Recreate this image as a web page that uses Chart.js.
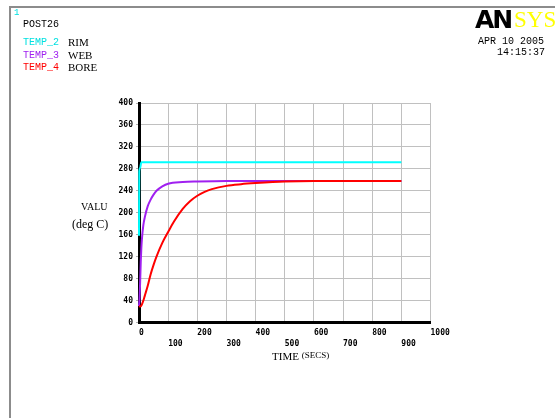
<!DOCTYPE html>
<html>
<head>
<meta charset="utf-8">
<script src="https://cdn.jsdelivr.net/npm/chart.js@4/dist/chart.umd.min.js"></script>
<style>
  html, body { margin: 0; padding: 0; background: #fff; }
  #page { position: relative; width: 555px; height: 418px; overflow: hidden; }
  #frame { position: absolute; left: 9px; top: 6px; width: 560px; height: 420px;
           border-left: 2px solid #8c8c8c; border-top: 2px solid #8c8c8c; }
  .t { position: absolute; white-space: nowrap; line-height: 1; }
  .mono { font-family: "Liberation Mono", monospace; font-size: 10px; }
  .serif { font-family: "Liberation Serif", serif; }
  canvas { position: absolute; left: 0; top: 0; }
</style>
</head>
<body>
<div id="page">
  <canvas id="chart" width="555" height="418"></canvas>
  <div id="frame"></div>

  <div class="t mono" style="left:14px;top:9px;font-size:9px;color:#00e0e0">1</div>
  <div class="t mono" style="left:23px;top:20px">POST26</div>

  <div class="t mono" style="left:23px;top:38px;color:#00e0e0">TEMP_2</div>
  <div class="t serif" style="left:68px;top:37px;font-size:11px">RIM</div>
  <div class="t mono" style="left:23px;top:51px;color:#a020f0">TEMP_3</div>
  <div class="t serif" style="left:68px;top:50px;font-size:11px">WEB</div>
  <div class="t mono" style="left:23px;top:63px;color:#ff0000">TEMP_4</div>
  <div class="t serif" style="left:68px;top:62px;font-size:11px">BORE</div>

  <div class="t" style="left:475px;top:7px;font-family:'DejaVu Sans';font-weight:bold;font-size:25px;letter-spacing:-2px;color:#000">AN</div>
  <div class="t serif" style="left:514px;top:8px;font-size:23px;color:#ffff00">SYS</div>

  <div class="t mono" style="left:478px;top:37px">APR 10 2005</div>
  <div class="t mono" style="left:497px;top:48px">14:15:37</div>

  <div class="t serif" style="left:81px;top:202px;font-size:10px">VALU</div>
  <div class="t serif" style="left:72px;top:218px;font-size:12px">(deg C)</div>

  <div class="t serif" style="left:272px;top:351px;font-size:11px">TIME <span style="font-size:9px;position:relative;top:-2px">(SECS)</span></div>
</div>

<script>
// RIM (TEMP_2)
var rimTime = [0, 1, 4, 8, 20, 900]
var rimTemp = [158, 276, 282, 292, 292, 292]

// WEB (TEMP_3)
var webTime = [0, 2, 4, 6, 8, 10, 15, 20, 30, 40, 50, 60, 80, 100, 150, 200, 300, 400, 600, 900]
var webTemp = [30, 45, 75, 110, 135, 152, 178, 192, 212, 224, 233, 240, 248, 253, 256, 257, 258, 258, 258, 258]

// BORE (TEMP_4)
var boreTime = [0, 5, 10, 15, 20, 30, 40, 50, 60, 80, 100, 120, 150, 175, 200, 225, 250, 300, 350, 400, 500, 600, 900]
var boreTemp = [30, 29, 33, 40, 49, 67, 88, 105, 120, 145, 165, 184, 207, 221, 231, 238, 243, 249, 252, 254, 257, 258, 258]

// axis ticks
var timeTicks = [0, 100, 200, 300, 400, 500, 600, 700, 800, 900, 1000]
var valuTicks = [0, 40, 80, 120, 160, 200, 240, 280, 320, 360, 400]

const toPoints = (xs, ys) => xs.map((x, i) => ({ x: x, y: ys[i] }))

const tickFont = { family: "DejaVu Sans Mono", size: 8, weight: "bold", lineHeight: 1.4 }

var chart = new Chart(document.getElementById("chart"), {
    type: "line",
    data: {
        datasets: [{
            label: "TEMP_4",
            data: toPoints(boreTime, boreTemp),
            borderColor: "#ff0000",
            order: 0
        }, {
            label: "TEMP_3",
            data: toPoints(webTime, webTemp),
            borderColor: "#a020f0",
            order: 1
        }, {
            label: "TEMP_2",
            data: toPoints(rimTime, rimTemp),
            borderColor: "#00ffff",
            order: 2
        }]
    },
    options: {
        responsive: false,
        devicePixelRatio: 1,
        animation: false,
        layout: { padding: { left: 100, right: 124.5, top: 103, bottom: 65.5 } },
        datasets: { line: { clip: 3 } },
        elements: {
            point: { radius: 0 },
            line: { borderWidth: 2, cubicInterpolationMode: "monotone", fill: false }
        },
        plugins: {
            legend: { display: false },
            title: { display: false },
            tooltip: { enabled: false }
        },
        scales: {
            x: {
                type: "linear",
                min: 0,
                max: 1000,
                afterBuildTicks: (s) => { s.ticks = timeTicks.map(v => ({ value: v })) },
                afterFit: (s) => { s.height = 30 },
                grid: { color: "#c0c0c0", lineWidth: 1, drawTicks: false },
                border: { color: "#000", width: 3 },
                ticks: {
                    align: "start",
                    maxRotation: 0,
                    autoSkip: false,
                    padding: 5,
                    color: "#000",
                    font: tickFont,
                    callback: (v) => (v / 100) % 2 === 0 ? [String(v), ""] : ["", String(v)]
                }
            },
            y: {
                min: 0,
                max: 400,
                afterBuildTicks: (s) => { s.ticks = valuTicks.map(v => ({ value: v })) },
                afterFit: (s) => { s.width = 39 },
                grid: { color: "#c0c0c0", lineWidth: 1, tickLength: 3, tickColor: "#b0b0b0" },
                border: { color: "#000", width: 3 },
                ticks: {
                    padding: 3,
                    color: "#000",
                    font: { family: "DejaVu Sans Mono", size: 8, weight: "bold" }
                }
            }
        }
    }
})
</script>
</body>
</html>
